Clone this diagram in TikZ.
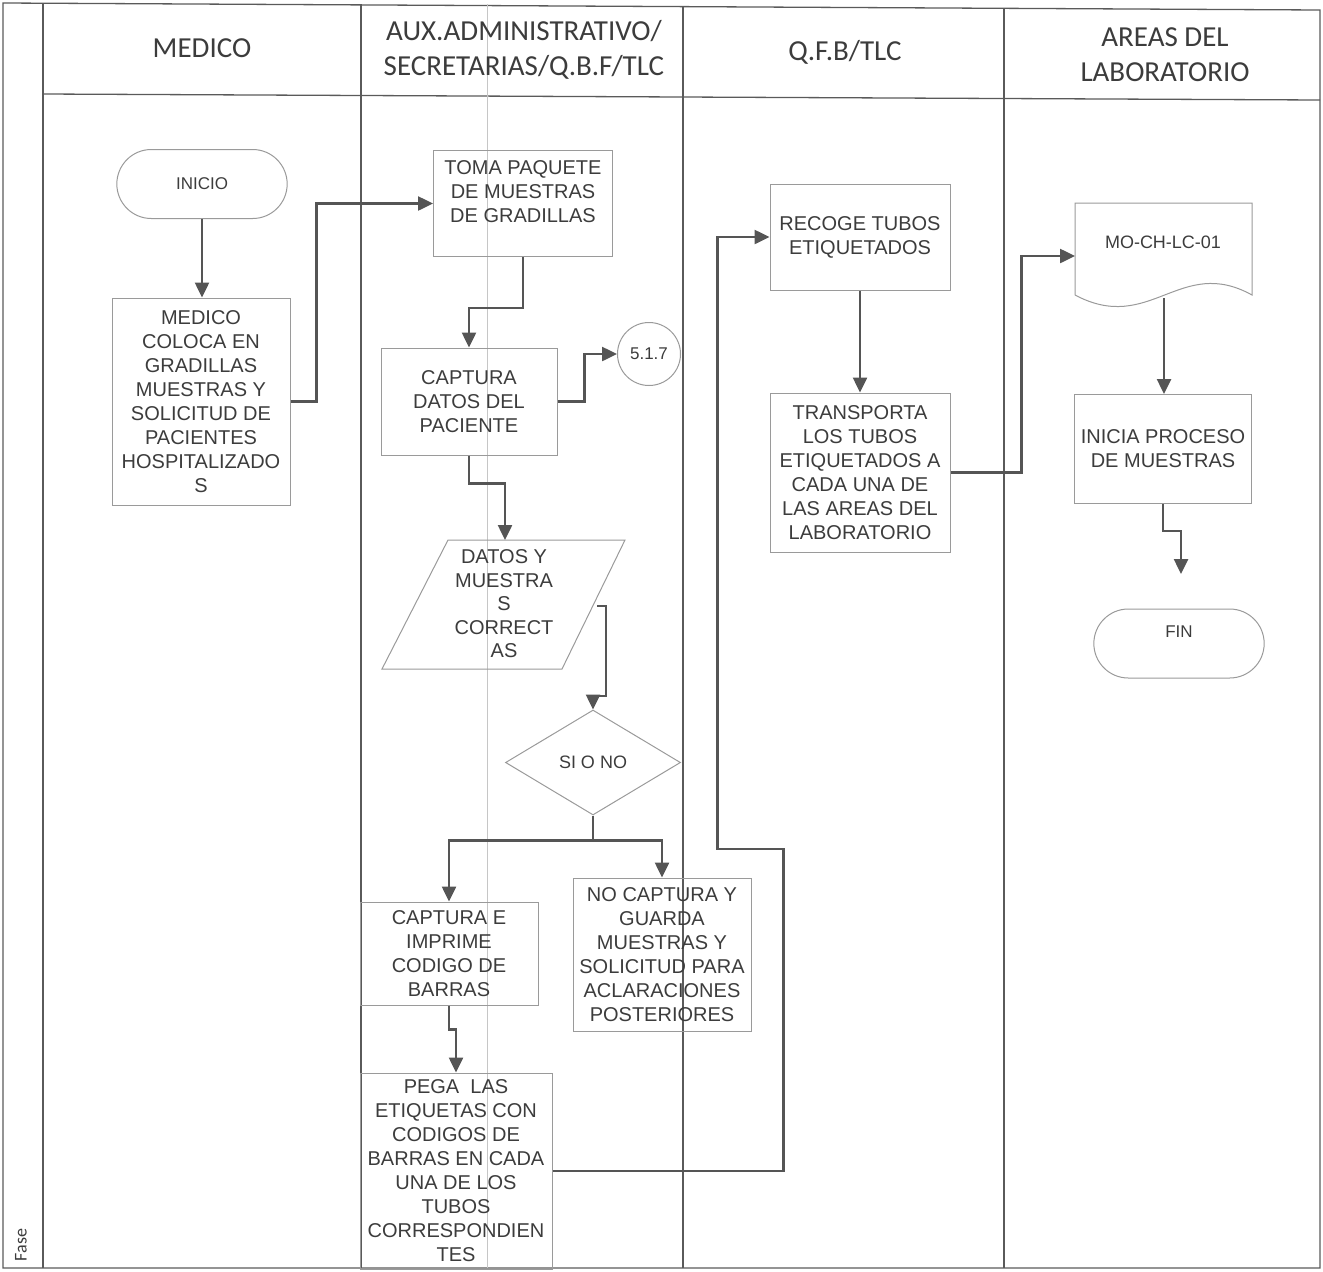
\documentclass[tikz,border=0pt]{standalone}
\usepackage{fontspec}
\setmainfont{Liberation Sans}
\newfontfamily\hdfont{Carlito}
\usetikzlibrary{arrows.meta,shapes.geometric,shapes.misc,calc}
\definecolor{ln}{HTML}{555555}
\definecolor{bx}{HTML}{9A9A9A}
\definecolor{tx}{HTML}{3C3C3C}
\definecolor{lane}{HTML}{5A5A5A}
\begin{document}
\begin{tikzpicture}[x=1pt,y=-1pt,
  box/.style={draw=bx,line width=1pt,rectangle,align=center,text=tx,inner sep=2pt,
    font=\fontsize{20}{24}\selectfont},
  term/.style={draw=bx,line width=1pt,rounded rectangle,minimum width=177pt,
    minimum height=69pt,align=center,text=tx,font=\fontsize{17}{24}\selectfont},
  arr/.style={draw=ln,line width=2.5pt,-{Triangle[length=15pt,width=14pt]}},
  lanes/.style={draw=lane,line width=1.3pt},
  hd/.style={text=tx,align=center,font=\hdfont\fontsize{29}{35}\selectfont}]
\useasboundingbox (0,0) rectangle (1323,1272);
% ---- pool and lanes ----
\draw[lanes] (3,3) -- (1320,10) -- (1320,1268) -- (3,1268) -- cycle;
\draw[lanes] (43,3) -- (43,1268);
\draw[lanes] (43,94) -- (1320,100);
\draw[lanes] (361,4) -- (361,1268);
\draw[lanes] (683,6) -- (683,1268);
\draw[lanes] (1004,8) -- (1004,1268);
\draw[gray!45,line width=0.7pt] (487,4) -- (487,1268);
% ---- headers ----
\node[hd] (h1) at (202,48) {MEDICO};
\node[hd] (h2) at (524,50) {AUX.ADMINISTRATIVO/\\SECRETARIAS/Q.B.F/TLC};
\node[hd] (h3) at (845,52) {Q.F.B/TLC};
\node[hd] (h4) at (1165,55) {AREAS DEL\\LABORATORIO};
\node[rotate=90,text=tx,font=\hdfont\fontsize{18}{20}\selectfont] (fase) at (21,1245) {Fase};
% ---- nodes ----
\node[term] (inicio) at (202,184) {INICIO};
\node[box,minimum width=178pt,minimum height=207pt] (medico) at (201,401.5)
  {MEDICO\\COLOCA EN\\GRADILLAS\\MUESTRAS Y\\SOLICITUD DE\\PACIENTES\\HOSPITALIZADO\\S};
\node[box,minimum width=179pt,minimum height=106pt] (toma) at (523,203.5)
  {TOMA PAQUETE\\DE MUESTRAS\\DE GRADILLAS\\\mbox{}};
\node[box,minimum width=176pt,minimum height=107pt] (captura) at (469,401.5)
  {CAPTURA\\DATOS DEL\\PACIENTE};
\node[circle,draw=bx,line width=1pt,minimum size=63pt,inner sep=0pt,text=tx,
  font=\fontsize{17}{20}\selectfont] (c517) at (649,354) {5.1.7};
\node[text=tx,align=center,font=\fontsize{20}{23.5}\selectfont,inner sep=0pt] (datos) at (504,604)
  {DATOS Y\\MUESTRA\\S\\CORRECT\\AS};
\draw[draw=bx,line width=1pt] (448,540) -- (625,540) -- (562,669) -- (382,669) -- cycle;
\coordinate (datt) at (505,540);
\coordinate (datr) at (597,606);
\node[diamond,draw=bx,line width=1pt,minimum width=175pt,minimum height=105pt,inner sep=0pt,
  text=tx,font=\fontsize{18}{22}\selectfont] (sino) at (593,762.5) {SI O NO};
\node[box,minimum width=178pt,minimum height=103pt] (capE) at (449,953.5)
  {CAPTURA E\\IMPRIME\\CODIGO DE\\BARRAS};
\node[box,minimum width=178pt,minimum height=153pt] (noc) at (662,954.5)
  {NO CAPTURA Y\\GUARDA\\MUESTRAS Y\\SOLICITUD PARA\\ACLARACIONES\\POSTERIORES};
\node[box,minimum width=192pt,minimum height=196pt] (pega) at (456,1171)
  {PEGA\ \ LAS\\ETIQUETAS CON\\CODIGOS DE\\BARRAS EN CADA\\UNA DE LOS\\TUBOS\\CORRESPONDIEN\\TES};
\node[box,minimum width=180pt,minimum height=106pt] (recoge) at (860,237)
  {RECOGE TUBOS\\ETIQUETADOS};
\node[box,minimum width=180pt,minimum height=159pt] (transp) at (860,472.5)
  {TRANSPORTA\\LOS TUBOS\\ETIQUETADOS A\\CADA UNA DE\\LAS AREAS DEL\\LABORATORIO};
\node[text=tx,font=\fontsize{18}{22}\selectfont,inner sep=0pt] (doc) at (1163,242) {MO-CH-LC-01};
\draw[draw=bx,line width=1pt] (1075,295) -- (1075,203) -- (1252,203) -- (1252,295)
  .. controls (1180,255) and (1150,335) .. (1075,295);
\coordinate (docl) at (1075,256);
\coordinate (docb) at (1164,298);
\node[box,minimum width=177pt,minimum height=109pt] (inicia) at (1163,449)
  {INICIA PROCESO\\DE MUESTRAS};
\node[term] (fin) at (1179,643.5) {FIN\\\mbox{}};
\coordinate (finin) at (1181,574);
% ---- connectors ----
\draw[arr] (inicio.south) -- (inicio.south |- medico.north);
\draw[arr] (medico.east) -- ++(26,0) |- (toma.west);
\draw[arr] (toma.south) -- ++(0,51) -| (captura.north);
\draw[arr] (captura.east) -- ++(27,0) |- (c517.west);
\draw[arr] (captura.south) -- ++(0,28) -| (datt);
\draw[arr] (datr) -- ++(9,0) -- ++(0,90) -| (sino.north);
\draw[arr] (sino.south) -- ++(0,25) -| (capE.north);
\draw[arr] (sino.south) -- ++(0,25) -| (noc.north);
\draw[arr] (capE.south) -- ++(0,24) -| (pega.north);
\draw[arr] (pega.east) -- ++(231,0) -- ++(0,-322) -- ++(-66,0) |- (recoge.west);
\draw[arr] (recoge.south) -- (transp.north);
\draw[arr] (transp.east) -- ++(71,0) |- (docl);
\draw[arr] (docb) -- (docb |- inicia.north);
\draw[arr] (inicia.south) -- ++(0,27) -| (finin);
\end{tikzpicture}
\end{document}
